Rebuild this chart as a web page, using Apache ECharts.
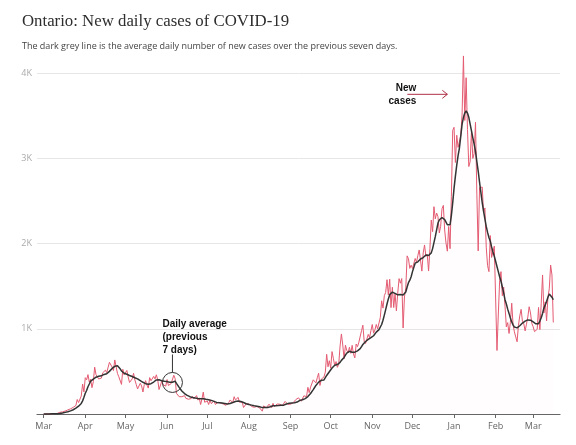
<!DOCTYPE html>
<html><head><meta charset="utf-8">
<script src="https://cdn.jsdelivr.net/npm/echarts@6/dist/echarts.min.js"></script>
<style>html,body{margin:0;padding:0;background:#fff}#c{width:576px;height:445px}</style>
</head><body><div id="c"></div>
<script>
const titleText = 'Ontario: New daily cases of COVID-19';
const subtitleText = 'The dark grey line is the average daily number of new cases over the previous seven days.';
const firstDataDate = '2020-03-01';
const axisStart = '2020-02-25';
const axisEnd = '2021-03-21';
const monthLabels = ['Mar','Apr','May','Jun','Jul','Aug','Sep','Oct','Nov','Dec','Jan','Feb','Mar'];
const yTickValues = [0, 1000, 2000, 3000, 4000];
const yTickLabels = ['', '1K', '2K', '3K', '4K'];

// Daily new cases, one value per day from 2020-03-01 to 2021-03-16
const dailyCases = [
  // Mar 2020
  0,0,2,2,2,5,2,1,5,7, 6,17,20,24,24,29,35,28,48,50, 60,51,78,85,100,170,135,151,211,351, 260,
  // Apr
  426,401,462,375,408,309,379,550,462,478, 411,401,421,483,494,514,485,497,606,589, 551,510,634,640,476,437,424,347,525,459,
  // May
  459,511,434,370,387,412,477,399,346,294, 308,361,329,258,345,391,340,304,427,390, 413,441,412,460,404,287,292,383,344,326, 326,
  // Jun
  404,335,338,356,344,455,415,243,251,203, 182,203,182,215,184,190,173,181,182,206, 178,160,216,163,189,111,177,257,138,154,
  // Jul
  153,111,165,121,138,154,112,118,138,116, 130,129,116,111,102,111,135,164,165,135, 203,165,146,195,137,127,143,76,89,119, 134,
  // Aug
  119,104,88,86,79,95,88,70,72,76, 33,95,100,73,90,115,101,75,125,86, 77,117,96,115,105,98,114,148,169,116, 130,
  // Sep
  114,133,132,148,169,158,190,185,149,170, 213,232,204,313,251,315,293,401,407,365, 425,478,335,409,409,435,491,700,554,625,
  // Oct
  538,732,653,566,615,548,583,797,939,809, 649,807,746,721,783,712,805,704,658,821, 790,841,826,978,1042,851,827,834,934,896, 977,
  // Nov
  1050,948,987,1050,998,1003,1132,1328,1242,1388, 1426,1575,1396,1581,1248,1487,1249,1417,1210,1418, 1588,1534,1589,1009,1373,1478,1855,1822,1708,1746,
  // Dec
  1707,1723,1824,1780,1859,1924,1925,1676,1890,1983, 1848,1873,1677,1940,2275,2139,2432,2290,2357,2316, 2123,2202,2408,2447,2159,2005,1910,2200,1939,2553, 3328,
  // Jan 2021
  3363,2950,3270,3128,3128,3266,3519,4200,3443,3945, 3338,2903,2961,3326,2998,3056,3422,2578,1913,2655, 2632,2662,2359,2417,1958,1740,1670,2093,1837,1848, 1969,
  // Feb
  1969,745,1172,1563,1670,1388,1489,1265,1022,1072, 945,1076,1300,1047,964,904,847,1038,1150,1228, 1087,1058,975,1054,1138,1258,1185,1062,
  // Mar 2021
  1023,966,958,994,1250,990,1299,1631,1185,1316, 1092,1371,1468,1747,1631,1074
];

// Seven-day average, same days
const sevenDayAverage = [
  // Mar 2020
  0,0,1,1,1,2,2,2,3,4, 4,6,7,10,12,15,19,22,26,31, 37,42,50,58,68,82,92,106,124,154, 197,
  // Apr
  243,276,320,352,385,395,410,425,432,440, 442,445,448,458,464,471,472,482,500,514, 535,542,559,572,565,552,530,505,488,478,
  // May
  470,466,460,452,446,440,433,425,420,412, 402,392,382,372,363,356,350,348,350,356, 365,375,388,400,405,402,396,390,386,384, 382,
  // Jun
  380,376,372,370,372,378,385,360,340,312, 290,270,254,240,228,218,210,203,198,194, 190,187,184,182,180,178,176,178,176,172,
  // Jul
  170,167,165,160,152,148,140,136,135,132, 130,128,125,123,120,118,119,124,130,135, 142,147,150,152,150,147,142,135,127,120, 115,
  // Aug
  112,109,104,99,96,95,92,88,84,81, 75,74,75,74,77,82,86,92,97,98, 97,97,99,100,103,102,104,110,118,122, 126,
  // Sep
  127,129,130,131,134,140,150,160,163,167, 175,181,188,204,219,240,258,286,311,335, 351,374,382,395,396,400,418,452,463,496,
  // Oct
  505,539,561,571,575,580,590,605,629,651, 663,691,715,730,736,730,725,722,725,731, 741,749,766,791,815,835,850,862,875,888, 895,
  // Nov
  905,918,935,960,975,990,1010,1050,1100,1160, 1225,1290,1350,1400,1415,1430,1420,1415,1400,1398, 1400,1402,1410,1395,1395,1430,1490,1540,1570,1610,
  // Dec
  1670,1720,1769,1775,1785,1800,1818,1820,1835,1855, 1865,1870,1860,1855,1890,1940,2010,2080,2160,2240, 2275,2290,2305,2300,2280,2250,2220,2205,2220,2330, 2480,
  // Jan 2021
  2650,2790,2920,3030,3120,3260,3400,3480,3530,3557, 3530,3480,3400,3320,3240,3165,3080,2960,2850,2720, 2600,2480,2380,2290,2200,2130,2070,2027,1960,1900, 1850,
  // Feb
  1792,1730,1670,1610,1557,1490,1420,1341,1290,1230, 1180,1126,1080,1045,1020,1008,1010,1020,1035,1050, 1067,1080,1090,1098,1104,1106,1100,1090,
  // Mar 2021
  1080,1068,1058,1047,1060,1090,1130,1180,1243,1280, 1320,1370,1408,1400,1370,1340
];

const avgNote = { date: '2020-06-05', value: 370, lines: ['Daily average', '(previous', '7 days)'] };
const casesNote = { date: '2020-12-27', value: 3750, lines: ['New', 'cases'] };

// ---- build axis categories (one per day) ----
const DAY = 86400000;
const isoDay = t => new Date(t).toISOString().slice(0, 10);
const t0 = Date.parse(axisStart + 'T00:00:00Z');
const t1 = Date.parse(axisEnd + 'T00:00:00Z');
const tData = Date.parse(firstDataDate + 'T00:00:00Z');
const categories = [];
for (let t = t0; t <= t1; t += DAY) categories.push(isoDay(t));
const offset = Math.round((tData - t0) / DAY);
const align = arr => categories.map((c, i) => {
  const k = i - offset;
  return (k >= 0 && k < arr.length) ? arr[k] : null;
});
const monthStarts = categories.filter(c => c.endsWith('-01'));
const isMonthStart = (idx, val) => String(val).endsWith('-01');

const chart = echarts.init(document.getElementById('c'), null, { renderer: 'canvas' });
chart.setOption({
  animation: false,
  backgroundColor: '#fff',
  title: [
    { text: titleText, left: 22, top: 13, padding: 0,
      textStyle: { fontFamily: 'Liberation Serif', fontSize: 16.8, lineHeight: 18, fontWeight: 'normal', color: '#2e2e2e' } },
    { text: subtitleText, left: 22, top: 41, padding: 0,
      textStyle: { fontFamily: 'Open Sans', fontSize: 9, lineHeight: 10, fontWeight: 'normal', color: '#444' } }
  ],
  grid: { left: 37, right: 16, top: 73, bottom: 31, containLabel: false },
  xAxis: {
    type: 'category',
    data: categories,
    boundaryGap: false,
    axisLine: { lineStyle: { color: '#666', width: 1.2 } },
    axisTick: { interval: isMonthStart, length: 4, lineStyle: { color: '#666' } },
    axisLabel: {
      interval: isMonthStart, margin: 8, color: '#666', fontSize: 9, fontFamily: 'Open Sans',
      formatter: v => monthLabels[monthStarts.indexOf(v)] || ''
    },
    splitLine: { show: false }
  },
  yAxis: {
    type: 'value', min: 0, max: 4000, interval: 1000,
    axisLine: { show: false }, axisTick: { show: false },
    axisLabel: {
      margin: 5, color: '#aaa', fontSize: 9, fontFamily: 'Open Sans',
      formatter: v => yTickLabels[yTickValues.indexOf(v)] || ''
    },
    splitLine: { lineStyle: { color: '#e6e6e6', width: 1 } }
  },
  series: [
    { name: 'New cases', type: 'line', data: align(dailyCases), symbol: 'none', clip: false, z: 2,
      lineStyle: { color: '#e45b72', width: 1 },
      areaStyle: { color: 'rgba(228,91,114,0.015)' } },
    { name: '7-day average', type: 'line', data: align(sevenDayAverage), symbol: 'none', clip: false, z: 3,
      lineStyle: { color: '#333', width: 1.5 } }
  ]
});

// ---- annotations placed from data coordinates ----
const px = (date, value) => chart.convertToPixel({ xAxisIndex: 0, yAxisIndex: 0 }, [categories.indexOf(date), value]);
const a = px(avgNote.date, avgNote.value);
const c = px(casesNote.date, casesNote.value);
const noteFont = 'bold 10px "Liberation Sans", Arial, sans-serif';
const elements = [
  { type: 'circle', shape: { cx: a[0], cy: a[1], r: 10 }, style: { fill: 'rgba(0,0,0,0)', stroke: '#333', lineWidth: 1 }, z: 10 },
  { type: 'line', shape: { x1: a[0], y1: a[1] - 10, x2: a[0], y2: a[1] - 28 }, style: { stroke: '#333', lineWidth: 1 }, z: 10 },
  { type: 'line', shape: { x1: c[0] - 40, y1: c[1], x2: c[0], y2: c[1] }, style: { stroke: '#b03048', lineWidth: 1 }, z: 10 },
  { type: 'polyline', shape: { points: [[c[0] - 5, c[1] - 4], [c[0], c[1]], [c[0] - 5, c[1] + 4]] }, style: { stroke: '#b03048', fill: null, lineWidth: 1 }, z: 10 }
];
avgNote.lines.forEach((t, i) => elements.push({
  type: 'text', x: a[0] - 10, y: a[1] - 58 + i * 12.8, z: 10,
  style: { text: t, font: noteFont, fill: '#111', textAlign: 'left', textVerticalAlign: 'middle' }
}));
casesNote.lines.forEach((t, i) => elements.push({
  type: 'text', x: c[0] - 31, y: c[1] - 6.3 + i * 13.3, z: 10,
  style: { text: t, font: noteFont, fill: '#111', textAlign: 'right', textVerticalAlign: 'middle' }
}));
chart.setOption({ graphic: { elements } });
</script>
</body></html>
